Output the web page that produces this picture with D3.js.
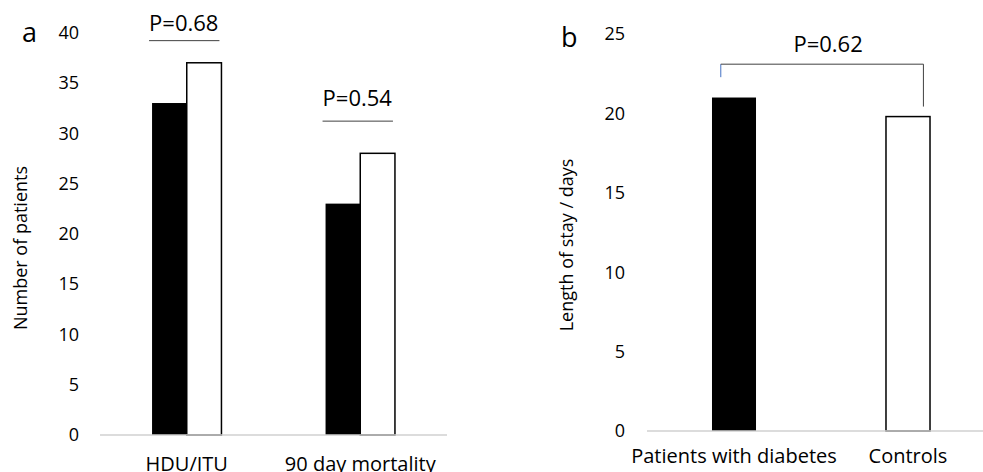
<!DOCTYPE html>
<html>
<head>
<meta charset="utf-8">
<script src="https://cdn.jsdelivr.net/npm/d3@7"></script>
<style>
  body { margin: 0; background: #fff; }
  svg { display: block; font-family: "Open Sans", sans-serif; }
</style>
</head>
<body>
<div id="chart"></div>
<script>
// panel a: number of patients
var catsA = ["HDU/ITU", "90 day mortality"];
var diabetesA = [33, 23];
var controlsA = [37, 28];
var pTextA = ["P=0.68", "P=0.54"];
var pLevelA = [39.2, 31.2];
var ticksA = [0, 5, 10, 15, 20, 25, 30, 35, 40];

// panel b: length of stay
var catsB = ["Patients with diabetes", "Controls"];
var losB = [21, 19.8];
var pTextB = "P=0.62";
var pLevelB = 23.1;
var ticksB = [0, 5, 10, 15, 20, 25];

(function () {
    var W = 983, H = 472;
    var svg = d3.select("#chart").append("svg")
        .attr("width", W).attr("height", H);

    var tickSize = 18, catSize = 20, titleSize = 18, pSize = 22;

    // ---------- panel a ----------
    var yA = d3.scaleLinear().domain([0, 40]).range([435, 32.6]);
    var xA = d3.scaleBand().domain(catsA).range([100, 447]).paddingInner(0.6).paddingOuter(0.3);
    var sub = d3.scaleBand().domain(["diabetes", "control"]).range([0, xA.bandwidth()]);

    var gA = svg.append("g");

    gA.selectAll(".tick")
        .data(ticksA).enter().append("text")
        .attr("x", 79).attr("y", function (d) { return yA(d); })
        .attr("dy", "0.35em")
        .attr("text-anchor", "end")
        .style("font-size", tickSize + "px")
        .attr("fill", "#000")
        .text(function (d) { return d; });

    var groups = gA.selectAll(".grp")
        .data(catsA).enter().append("g")
        .attr("transform", function (d) { return "translate(" + xA(d) + ",0)"; });

    groups.append("rect")
        .attr("x", sub("diabetes"))
        .attr("y", function (d, i) { return yA(diabetesA[i]); })
        .attr("width", sub.bandwidth())
        .attr("height", function (d, i) { return yA(0) - yA(diabetesA[i]); })
        .attr("fill", "#000");

    groups.append("rect")
        .attr("x", sub("control"))
        .attr("y", function (d, i) { return yA(controlsA[i]); })
        .attr("width", sub.bandwidth())
        .attr("height", function (d, i) { return yA(0) - yA(controlsA[i]); })
        .attr("fill", "#fff")
        .attr("stroke", "#000")
        .attr("stroke-width", 1.5);

    // baseline
    gA.append("line")
        .attr("x1", 100).attr("x2", 447)
        .attr("y1", yA(0)).attr("y2", yA(0))
        .attr("stroke", "#d0d0d0").attr("stroke-width", 1.5);

    // p-value lines
    groups.append("line")
        .attr("x1", -3).attr("x2", xA.bandwidth() - 2)
        .attr("y1", function (d, i) { return yA(pLevelA[i]); })
        .attr("y2", function (d, i) { return yA(pLevelA[i]); })
        .attr("stroke", "#404040").attr("stroke-width", 1);

    groups.append("text")
        .attr("x", xA.bandwidth() / 2 - 3)
        .attr("y", function (d, i) { return yA(pLevelA[i]) - 10 - (i * 5); })
        .attr("text-anchor", "middle")
        .style("font-size", pSize + "px")
        .text(function (d, i) { return pTextA[i]; });

    groups.append("text")
        .attr("x", xA.bandwidth() / 2)
        .attr("y", 471)
        .attr("text-anchor", "middle")
        .style("font-size", catSize + "px")
        .text(function (d) { return d; });

    gA.append("text")
        .attr("transform", "translate(27,248) rotate(-90)")
        .attr("text-anchor", "middle")
        .style("font-size", titleSize + "px")
        .text("Number of patients");

    gA.append("text")
        .attr("x", 22).attr("y", 42)
        .style("font-size", "27px")
        .text("a");

    // ---------- panel b ----------
    var yB = d3.scaleLinear().domain([0, 25]).range([431, 34]);
    var xB = d3.scaleBand().domain(catsB).range([647, 995]).paddingInner(0.747).paddingOuter(0.3735);

    var gB = svg.append("g");

    gB.selectAll(".tick")
        .data(ticksB).enter().append("text")
        .attr("x", 625).attr("y", function (d) { return yB(d); })
        .attr("dy", "0.35em")
        .attr("text-anchor", "end")
        .style("font-size", tickSize + "px")
        .text(function (d) { return d; });

    gB.selectAll(".bar")
        .data(catsB).enter().append("rect")
        .attr("x", function (d) { return xB(d); })
        .attr("y", function (d, i) { return yB(losB[i]); })
        .attr("width", xB.bandwidth())
        .attr("height", function (d, i) { return yB(0) - yB(losB[i]); })
        .attr("fill", function (d, i) { return i === 0 ? "#000" : "#fff"; })
        .attr("stroke", function (d, i) { return i === 0 ? "none" : "#000"; })
        .attr("stroke-width", 1.5);

    gB.append("line")
        .attr("x1", 647).attr("x2", W)
        .attr("y1", yB(0)).attr("y2", yB(0))
        .attr("stroke", "#d0d0d0").attr("stroke-width", 1.5);

    // bracket
    var bl = xB(catsB[0]) + xB.bandwidth() * 0.2,
        br = xB(catsB[1]) + xB.bandwidth() * 0.85,
        by = yB(pLevelB);
    gB.append("line")
        .attr("x1", bl).attr("x2", bl)
        .attr("y1", by).attr("y2", by + 13)
        .attr("stroke", "#4472c4").attr("stroke-width", 1);
    gB.append("path")
        .attr("d", "M" + bl + "," + by + "H" + br + "V" + (yB(losB[1]) - 10))
        .attr("fill", "none")
        .attr("stroke", "#404040").attr("stroke-width", 1);
    gB.append("text")
        .attr("x", (bl + br) / 2 + 6).attr("y", by - 12)
        .attr("text-anchor", "middle")
        .style("font-size", pSize + "px")
        .text(pTextB);

    gB.selectAll(".cat")
        .data(catsB).enter().append("text")
        .attr("x", function (d) { return xB(d) + xB.bandwidth() / 2; })
        .attr("y", 463)
        .attr("text-anchor", "middle")
        .style("font-size", catSize + "px")
        .text(function (d) { return d; });

    gB.append("text")
        .attr("transform", "translate(573,245) rotate(-90)")
        .attr("text-anchor", "middle")
        .style("font-size", titleSize + "px")
        .text("Length of stay / days");

    gB.append("text")
        .attr("x", 561).attr("y", 47)
        .style("font-size", "27px")
        .text("b");
})();
</script>
</body>
</html>
